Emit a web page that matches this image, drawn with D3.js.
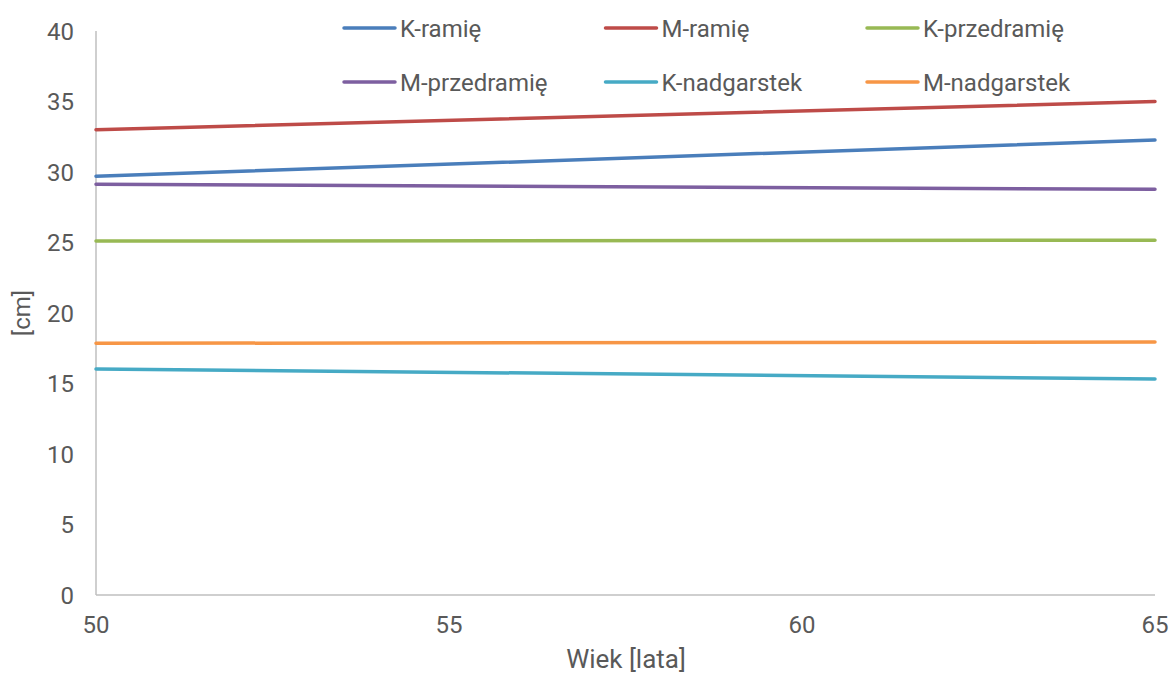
<!DOCTYPE html>
<html>
<head>
<meta charset="utf-8">
<script src="https://d3js.org/d3.v7.min.js"></script>
<style>
  body { margin: 0; background: #fff; }
  svg { display: block; font-family: Roboto, "Noto Sans", sans-serif; }
</style>
</head>
<body>
<svg id="chart" width="1172" height="675"></svg>
<script>
// Age range (years)
const ages = [50, 65];

// Circumference series [cm] at ages 50 and 65
const seriesNames = ["K-ramię", "M-ramię", "K-przedramię", "M-przedramię", "K-nadgarstek", "M-nadgarstek"];
const kRamie = [29.7, 32.27];
const mRamie = [33.0, 35.0];
const kPrzedramie = [25.1, 25.16];
const mPrzedramie = [29.13, 28.77];
const kNadgarstek = [16.03, 15.32];
const mNadgarstek = [17.85, 17.94];
const seriesColors = ["#4a7ebb", "#be4b48", "#98b954", "#7d5fa0", "#46aac5", "#f79646"];

// Axis ticks
const xTicks = [50, 55, 60, 65];
const yTicks = [0, 5, 10, 15, 20, 25, 30, 35, 40];

const seriesValues = [kRamie, mRamie, kPrzedramie, mPrzedramie, kNadgarstek, mNadgarstek];
const series = seriesNames.map((name, i) => ({
  name,
  color: seriesColors[i],
  points: ages.map((a, j) => ({ x: a, y: seriesValues[i][j] }))
}));

const svg = d3.select("#chart");
const plotLeft = 96, plotRight = 1155, plotTop = 31, plotBottom = 595;

const x = d3.scaleLinear().domain([50, 65]).range([plotLeft, plotRight]);
const y = d3.scaleLinear().domain([0, 40]).range([plotBottom, plotTop]);

const textColor = "#595959";
const axisColor = "#bfbfbf";
const fontSize = 24;

// Axis lines
svg.append("line")
  .attr("x1", plotLeft).attr("x2", plotLeft).attr("y1", y(40)).attr("y2", plotBottom)
  .attr("stroke", axisColor).attr("stroke-width", 1.5);
svg.append("line")
  .attr("x1", plotLeft).attr("x2", plotRight).attr("y1", plotBottom).attr("y2", plotBottom)
  .attr("stroke", axisColor).attr("stroke-width", 1.5);

// Y tick labels
svg.append("g").selectAll("text").data(yTicks).join("text")
  .attr("x", 74).attr("y", d => y(d))
  .attr("dy", "0.36em")
  .attr("text-anchor", "end")
  .attr("font-size", fontSize)
  .attr("fill", textColor)
  .text(d => d);

// X tick labels
svg.append("g").selectAll("text").data(xTicks).join("text")
  .attr("x", d => x(d)).attr("y", 624)
  .attr("dy", "0.36em")
  .attr("text-anchor", "middle")
  .attr("font-size", fontSize)
  .attr("fill", textColor)
  .text(d => d);

// Axis titles
svg.append("text")
  .attr("x", 626).attr("y", 668)
  .attr("text-anchor", "middle")
  .attr("font-size", 26)
  .attr("fill", textColor)
  .text("Wiek [lata]");

svg.append("text")
  .attr("transform", `translate(21, ${(plotTop + plotBottom) / 2}) rotate(-90)`)
  .attr("dy", "0.36em")
  .attr("text-anchor", "middle")
  .attr("font-size", fontSize)
  .attr("fill", textColor)
  .text("[cm]");

// Series lines
const line = d3.line().x(d => x(d.x)).y(d => y(d.y));
svg.append("g").selectAll("path").data(series).join("path")
  .attr("d", d => line(d.points))
  .attr("fill", "none")
  .attr("stroke", d => d.color)
  .attr("stroke-width", 3.5)
  .attr("stroke-linecap", "round");

// Legend: 3 columns, 2 rows
const legend = svg.append("g").selectAll("g").data(series).join("g")
  .attr("transform", (d, i) => `translate(${344 + (i % 3) * 261.5}, ${28 + Math.floor(i / 3) * 54})`);
legend.append("line")
  .attr("x1", 0).attr("x2", 51).attr("y1", 0).attr("y2", 0)
  .attr("stroke", d => d.color)
  .attr("stroke-width", 3.5)
  .attr("stroke-linecap", "round");
legend.append("text")
  .attr("x", 56).attr("y", 0)
  .attr("dy", "0.36em")
  .attr("font-size", fontSize)
  .attr("fill", textColor)
  .text(d => d.name);
</script>
</body>
</html>
